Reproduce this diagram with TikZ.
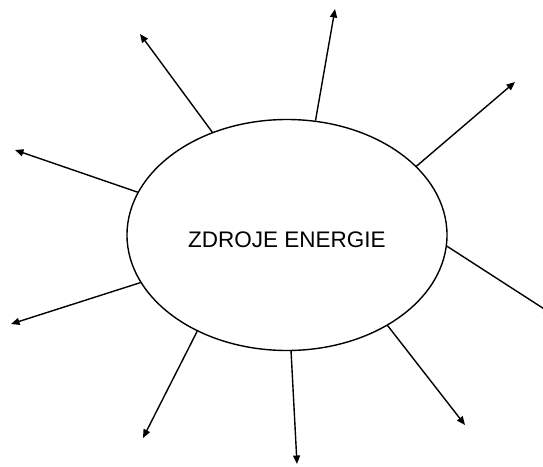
\documentclass[tikz,border=0pt]{standalone}
\usepackage{fontspec}
\setmainfont{Liberation Sans}
\usetikzlibrary{arrows.meta,shapes.geometric}
\begin{document}
\begin{tikzpicture}[x=1pt,y=-1pt,
  ray/.style={line width=1.4pt,-{Triangle[length=8.5pt,width=7pt]}},
  hub/.style={ellipse,draw,line width=1.4pt,minimum width=320pt,minimum height=231pt,inner sep=0pt}]
\useasboundingbox (0,0) rectangle (543,466);
\node[hub] (E) at (287,235) {};
\node[font=\fontsize{22.5}{25}\selectfont] (T) at (287,240) {ZDROJE ENERGIE};
\coordinate (t1) at (335,9);
\coordinate (t2) at (140,34);
\coordinate (t3) at (515,82);
\coordinate (t4) at (15,150);
\coordinate (t5) at (11,324);
\coordinate (t6) at (552,314);
\coordinate (t7) at (143,438);
\coordinate (t8) at (297,464);
\coordinate (t9) at (465,425);
\draw[ray] (E.76.8) -- (t1);
\draw[ray] (E.126.4) -- (t2);
\draw[ray] (E.28.7) -- (t3);
\draw[ray] (E.164.7) -- (t4);
\draw[ray] (E.198.3) -- (t5);
\begin{scope}
\clip (0,0) rectangle (543,466);
\draw[ray] (E.-4.3) -- (t6);
\end{scope}
\draw[ray] (E.227.1) -- (t7);
\draw[ray] (E.272.5) -- (t8);
\draw[ray] (E.318.3) -- (t9);
\end{tikzpicture}
\end{document}
